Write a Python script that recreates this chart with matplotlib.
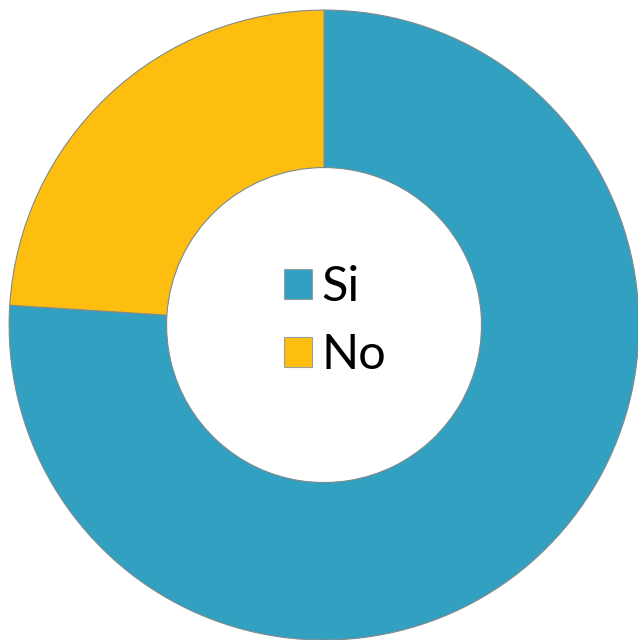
import matplotlib.pyplot as plt
from matplotlib.patches import Patch

labels = ['Si', 'No']
values = [76, 24]
colors = ['#31A0C1', '#FEBE10']

fig = plt.figure(figsize=(6.38, 6.40), dpi=100)
ax = fig.add_axes([0, 0, 1, 1])

# Donut
wedges, _ = ax.pie(values, colors=colors, startangle=90, counterclock=False,
                   radius=1.0,
                   wedgeprops=dict(width=0.5, edgecolor='#7f8a8c', linewidth=0.8))

ax.set_xlim(-1.029, 0.997)
ax.set_ylim(-1.0, 1.032)
ax.set_aspect('auto')
ax.axis('off')

# Legend in the hole
handles = [Patch(facecolor=c, edgecolor='#9aa0a0', linewidth=0.8) for c in colors]
ax.legend(handles, labels, loc='center', bbox_to_anchor=(0.035, 0.012),
          bbox_transform=ax.transData, frameon=False,
          prop={'family': 'Lato', 'size': 35},
          handlelength=0.58, handleheight=0.58, handletextpad=0.18,
          labelspacing=0.5)

plt.savefig('out.png', dpi=100)
